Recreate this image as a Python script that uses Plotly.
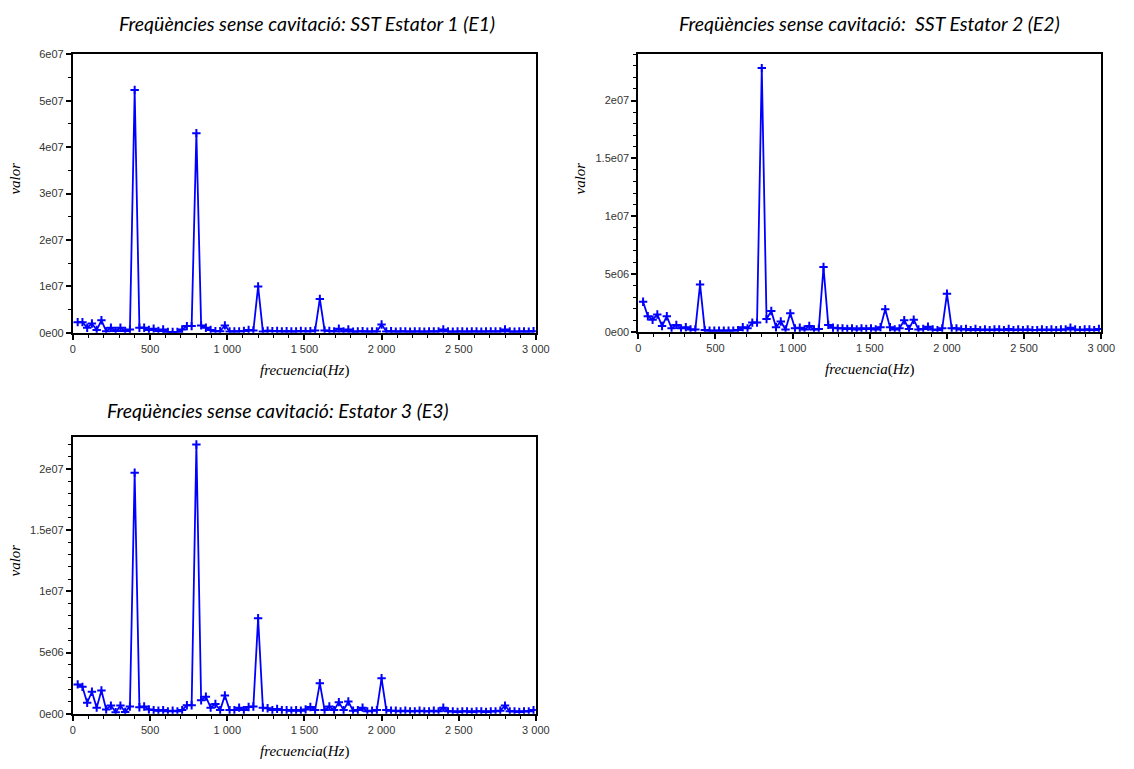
import numpy as np
import plotly.graph_objects as go

# frequency bins (Hz): FFT grid, spacing 400/13 Hz
BIN_HZ = 400.0 / 13.0
frecuencia = [round(k * BIN_HZ, 2) for k in range(1, 98)]

# amplitude values, in millions (x1e6)
e1_valor_m = [2.3, 2.3, 1.1, 2.0, 0.6, 2.7, 0.35, 1.1, 0.4, 1.1, 0.4, 0.7, 52.3,
              1.1, 1.1, 0.6, 0.9, 0.4, 0.7, 0.2, 0.2, 0.2, 0.7, 1.45, 1.45, 43.0,
              1.6, 1.1, 0.6, 0.35, 0.35, 1.6, 0.3, 0.3, 0.3, 0.4, 0.6, 0.5, 10.0,
              0.3, 0.45, 0.35, 0.4, 0.3, 0.35, 0.3, 0.3, 0.4, 0.3, 0.35, 0.5, 7.3,
              0.5, 0.4, 0.3, 0.9, 0.3, 0.7, 0.25, 0.3, 0.35, 0.25, 0.3, 0.3, 1.8,
              0.3, 0.35, 0.25, 0.3, 0.3, 0.25, 0.3, 0.3, 0.25, 0.3, 0.3, 0.3, 0.7,
              0.3, 0.25, 0.3, 0.3, 0.25, 0.3, 0.3, 0.25, 0.3, 0.3, 0.3, 0.3, 0.7,
              0.3, 0.25, 0.3, 0.3, 0.25, 0.35]

e2_valor_m = [2.6, 1.35, 1.05, 1.5, 0.5, 1.35, 0.3, 0.6, 0.3, 0.4, 0.2, 0.2, 4.1,
              0.15, 0.1, 0.1, 0.1, 0.1, 0.1, 0.1, 0.15, 0.4, 0.3, 0.8, 0.8, 22.8,
              1.1, 1.8, 0.4, 0.9, 0.2, 1.6, 0.3, 0.35, 0.2, 0.5, 0.2, 0.25, 5.6,
              0.6, 0.35, 0.3, 0.3, 0.25, 0.3, 0.2, 0.3, 0.25, 0.3, 0.2, 0.4, 1.95,
              0.4, 0.2, 0.3, 1.0, 0.25, 1.05, 0.2, 0.25, 0.45, 0.2, 0.15, 0.3, 3.3,
              0.3, 0.3, 0.2, 0.25, 0.15, 0.25, 0.15, 0.2, 0.15, 0.2, 0.2, 0.15, 0.25,
              0.15, 0.2, 0.15, 0.2, 0.15, 0.15, 0.2, 0.15, 0.2, 0.15, 0.2, 0.2, 0.35,
              0.2, 0.15, 0.2, 0.2, 0.15, 0.25]

e3_valor_m = [2.4, 2.2, 0.9, 1.8, 0.5, 1.9, 0.35, 0.67, 0.13, 0.67, 0.15, 0.6, 19.7,
              0.53, 0.6, 0.35, 0.3, 0.25, 0.3, 0.2, 0.25, 0.2, 0.3, 0.7, 0.7, 22.0,
              1.1, 1.4, 0.5, 0.8, 0.3, 1.5, 0.3, 0.3, 0.5, 0.3, 0.55, 0.6, 7.8,
              0.5, 0.45, 0.3, 0.4, 0.3, 0.3, 0.25, 0.3, 0.25, 0.35, 0.55, 0.3, 2.5,
              0.3, 0.6, 0.3, 0.95, 0.3, 1.0, 0.25, 0.3, 0.5, 0.2, 0.25, 0.3, 2.9,
              0.3, 0.25, 0.25, 0.2, 0.25, 0.2, 0.2, 0.25, 0.2, 0.2, 0.25, 0.2, 0.5,
              0.2, 0.2, 0.15, 0.2, 0.2, 0.15, 0.2, 0.2, 0.15, 0.2, 0.2, 0.25, 0.67,
              0.2, 0.2, 0.15, 0.2, 0.2, 0.3]

titles = ["Freqüències sense cavitació: SST Estator 1 (E1)",
          "Freqüències sense cavitació:  SST Estator 2 (E2)",
          "Freqüències sense cavitació: Estator 3 (E3)"]

x_ticks = [0, 500, 1000, 1500, 2000, 2500, 3000]

y1_ticks = [0, 1e7, 2e7, 3e7, 4e7, 5e7, 6e7]
y1_text = ["0e00", "1e07", "2e07", "3e07", "4e07", "5e07", "6e07"]
y23_ticks = [0, 5e6, 1e7, 1.5e7, 2e7]
y23_text = ["0e00", "5e06", "1e07", "1.5e07", "2e07"]

W, H = 1134, 769
BLUE = "#0000ff"

def px(x):
    return x / W

def py(y):
    return 1 - y / H

panels = [
    dict(data=e1_valor_m, x0=71, x1=541, y0=49, y1=332, ymax=6e7,
         yt=y1_ticks, ytt=y1_text, ydt_minor=5e6, title=titles[0], tx=309, ty=18),
    dict(data=e2_valor_m, x0=645, x1=1115, y0=49, y1=331, ymax=2.4e7,
         yt=y23_ticks, ytt=y23_text, ydt_minor=1e6, title=titles[1], tx=880, ty=18),
    dict(data=e3_valor_m, x0=71, x1=541, y0=438, y1=719, ymax=2.26e7,
         yt=y23_ticks, ytt=y23_text, ydt_minor=1e6, title=titles[2], tx=279, ty=411),
]

fig = go.Figure()
annotations = []
layout_axes = {}
for i, p in enumerate(panels, start=1):
    sfx = "" if i == 1 else str(i)
    vals = np.array(p["data"]) * 1e6
    fig.add_trace(go.Scatter(
        x=frecuencia, y=vals, mode="lines+markers",
        line=dict(color=BLUE, width=1.8),
        marker=dict(symbol="cross-thin", size=6, line=dict(color=BLUE, width=2)),
        xaxis="x" + sfx, yaxis="y" + sfx, showlegend=False,
    ))
    layout_axes["xaxis" + sfx] = dict(
        domain=[px(p["x0"]), px(p["x1"])], anchor="y" + sfx,
        range=[0, 3000], tickvals=x_ticks, separatethousands=True,
        ticks="outside", ticklen=5, tickwidth=1.5, tickcolor="black",
        minor=dict(ticks="outside", ticklen=3, dtick=100, tick0=0, tickcolor="black", tickwidth=1.2),
        showline=True, linecolor="black", linewidth=2, mirror=True,
        showgrid=False, zeroline=False,
        tickfont=dict(family="Liberation Sans", size=11, color="#333333"),
        fixedrange=True,
    )
    layout_axes["yaxis" + sfx] = dict(
        domain=[py(p["y1"]), py(p["y0"])], anchor="x" + sfx,
        range=[0, p["ymax"]], tickvals=p["yt"], ticktext=p["ytt"],
        ticks="outside", ticklen=5, tickwidth=1.5, tickcolor="black",
        minor=dict(ticks="outside", ticklen=3, dtick=p["ydt_minor"], tick0=0, tickcolor="black", tickwidth=1.2),
        showline=True, linecolor="black", linewidth=2, mirror=True,
        showgrid=False, zeroline=False,
        tickfont=dict(family="Liberation Sans", size=11, color="#333333"),
        fixedrange=True,
    )
    annotations.append(dict(
        text="<i>" + p["title"] + "</i>", x=px(p["tx"]), y=py(p["ty"]),
        xref="paper", yref="paper", xanchor="center", yanchor="middle",
        showarrow=False, font=dict(family="Lato", size=19.5, color="black"),
    ))
    annotations.append(dict(
        text="<i>frecuencia</i>(<i>Hz</i>)", x=px((p["x0"] + p["x1"]) / 2),
        y=py(p["y1"] + 38), xref="paper", yref="paper",
        xanchor="center", yanchor="middle", showarrow=False,
        font=dict(family="Liberation Serif", size=15, color="black"),
    ))
    annotations.append(dict(
        text="<i>valor</i>", x=px(p["x0"] - 59), y=py((p["y0"] + p["y1"]) / 2 - 15),
        xref="paper", yref="paper", xanchor="center", yanchor="middle",
        textangle=-90, showarrow=False,
        font=dict(family="Liberation Serif", size=15, color="black"),
    ))

fig.update_layout(
    width=W, height=H, margin=dict(l=0, r=0, t=0, b=0),
    paper_bgcolor="white", plot_bgcolor="white",
    separators=". ", annotations=annotations, **layout_axes,
)

fig.write_html("out.html", config={"displayModeBar": False})
